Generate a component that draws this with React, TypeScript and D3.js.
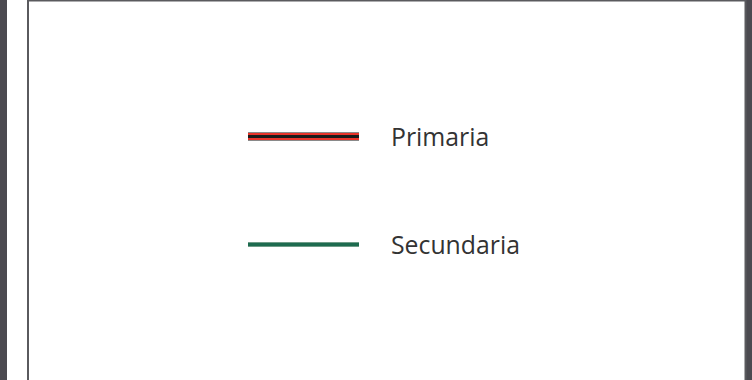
import React, { useEffect, useRef } from 'react';
import * as d3 from 'd3';

// Legend entries
const seriesNames = ['Primaria', 'Secundaria'];
const seriesColors = ['#e8332a', '#1d6b4f'];
const seriesCasing = ['#1a1a1a', null];

const App = () => {
  const ref = useRef<SVGSVGElement>(null);

  useEffect(() => {
    const width = 752;
    const height = 380;
    const svg = d3.select(ref.current);
    svg.selectAll('*').remove();

    // Frame: dark side strips and panel border
    svg.append('rect').attr('width', width).attr('height', height).attr('fill', '#ffffff');
    svg.append('rect').attr('x', 0).attr('y', 0).attr('width', 7).attr('height', height).attr('fill', '#4b4a50');
    svg.append('rect').attr('x', 746).attr('y', 0).attr('width', 6).attr('height', height).attr('fill', '#4b4a50');
    svg
      .append('path')
      .attr('d', `M28,${height} L28,0.5 L745.5,0.5 L745.5,${height}`)
      .attr('fill', 'none')
      .attr('stroke', '#5a5a5e')
      .attr('stroke-width', 2);

    const y = d3.scalePoint<string>().domain(seriesNames).range([136.5, 244.5]);
    const x0 = 248;
    const x1 = 359;

    const g = svg.selectAll('g.item').data(seriesNames).enter().append('g').attr('class', 'item');

    g.each(function (d, i) {
      const sel = d3.select(this);
      const yy = y(d)!;
      const seg = (color: string, w: number) =>
        sel.append('line').attr('x1', x0).attr('x2', x1).attr('y1', yy).attr('y2', yy)
          .attr('stroke', color).attr('stroke-width', w);
      if (seriesCasing[i]) {
        seg('#8a8a8a', 9);
        seg(seriesColors[i], 7);
        seg(seriesCasing[i] as string, 3);
      } else {
        seg('#6f9c88', 5);
        seg(seriesColors[i], 3);
      }
      sel.append('text')
        .attr('x', 391)
        .attr('y', yy + 9)
        .attr('font-family', '"Open Sans", sans-serif')
        .attr('font-size', 24.8)
        .attr('fill', '#333333')
        .text(d);
    });
  }, []);

  return (
    <svg
      ref={ref}
      width={752}
      height={380}
      style={{ position: 'absolute', left: 0, top: 0, display: 'block' }}
    />
  );
};

export default App;
